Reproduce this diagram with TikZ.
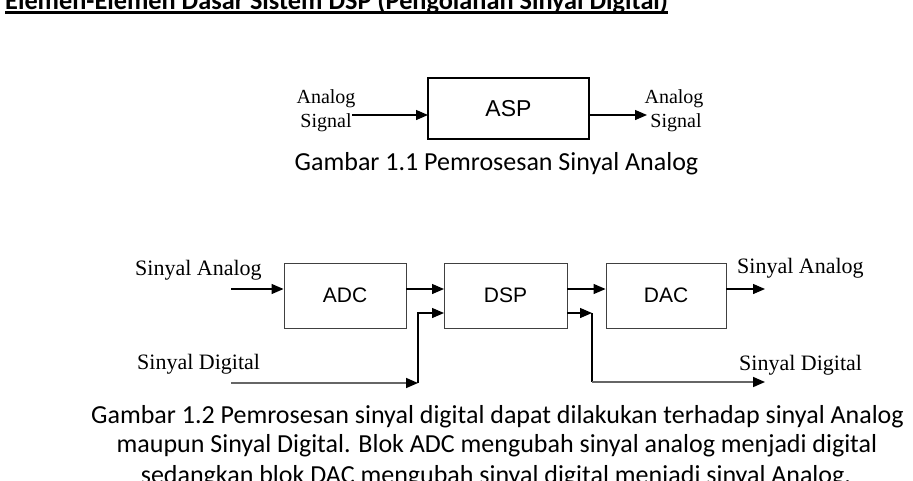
\documentclass[tikz,border=0pt]{standalone}
\usepackage{fontspec}
\setmainfont{Carlito}
\newfontfamily\serifl{Liberation Serif}
\newfontfamily\sansl{Liberation Sans}
\usetikzlibrary{arrows.meta}
\tikzset{
  arr/.style={line width=1.3pt,-{Triangle[length=12pt,width=10pt]}},
  garr/.style={line width=1.6pt,draw=black!60,-{Triangle[length=12pt,width=10pt,color=black]}},
  asplbl/.style={font=\serifl\fontsize{20}{24}\selectfont,inner sep=0pt,anchor=base},
  lbl/.style={font=\serifl\fontsize{22}{26}\selectfont,inner sep=0pt,anchor=base west},
  bigbox/.style={draw,line width=1.3pt,minimum width=161pt,minimum height=61pt,inner sep=0pt,font=\sansl\fontsize{23}{27}\selectfont},
  procbox/.style={draw=black!75,line width=0.9pt,minimum height=65pt,inner sep=0pt,font=\sansl\fontsize{21}{25}\selectfont},
  captext/.style={font=\fontsize{26}{30}\selectfont,inner sep=0pt,anchor=base},
}
\begin{document}
\begin{tikzpicture}[x=1pt,y=-1pt]
\useasboundingbox (0,0) rectangle (913,480);
\clip (0,0) rectangle (913,480);
\fill[white] (0,0) rectangle (913,480);
% title
\node[font=\bfseries\fontsize{26.3}{30}\selectfont,inner sep=0pt,anchor=base west] (title) at (5,9.3) {Elemen-Elemen Dasar Sistem DSP (Pengolahan Sinyal Digital)};
\draw[line width=3.4pt] ([yshift=-2.9pt]title.base west) -- ([yshift=-2.9pt]title.base east);
% figure 1.1
\node[bigbox] (asp) at (508.5,108.5) {ASP};
\node[asplbl] (aL1) at (326,103) {Analog};
\node[asplbl] (aL2) at (326,127) {Signal};
\node[asplbl] (aR1) at (674,103) {Analog};
\node[asplbl] (aR2) at (676,127) {Signal};
\coordinate (aspin) at (428,115);
\coordinate (aspout) at (647,115);
\draw[arr] (aL2.east |- aspin) -- (aspin);
\draw[arr] (asp.east |- aspout) -- (aspout);
\node[captext] (cap1) at (496.5,170) {Gambar 1.1 Pemrosesan Sinyal Analog};
% figure 1.2
\node[procbox,minimum width=122pt] (adc) at (345,295.5) {ADC};
\node[procbox,minimum width=123pt] (dsp) at (505.5,295.5) {DSP};
\node[procbox,minimum width=120pt] (dac) at (666,295.5) {DAC};
\coordinate (inA) at (231,289);
\coordinate (inD) at (231,383);
\coordinate (jD) at (418,383);
\coordinate (dspA) at (444,289);
\coordinate (dspD) at (444,313);
\coordinate (jO) at (592,313);
\coordinate (outA) at (765,289);
\coordinate (outD) at (765,382);
\draw[arr] (inA) -- (adc.west |- inA);
\draw[arr] (adc.east |- dspA) -- (dspA);
\draw[arr] (dsp.east |- inA) -- (dac.west |- inA);
\draw[arr] (dac.east |- outA) -- (outA);
\draw[garr] (inD) -- (jD);
\draw[arr] (jD) |- (dspD);
\draw[arr] (dsp.east |- dspD) -- (jO);
\draw[line width=1.3pt] (jO) -- (jO |- outD);
\draw[garr] (jO |- outD) -- (outD);
\node[lbl] (lA) at (135,275) {Sinyal Analog};
\node[lbl] (lD) at (137,369) {Sinyal Digital};
\node[lbl] (rA) at (737,273) {Sinyal Analog};
\node[lbl] (rD) at (739,370) {Sinyal Digital};
\node[captext] (cap2a) at (497.5,423) {Gambar 1.2 Pemrosesan sinyal digital dapat dilakukan terhadap sinyal Analog};
\node[captext] (cap2b) at (497,452) {maupun Sinyal Digital. Blok ADC mengubah sinyal analog menjadi digital};
\node[captext] (cap2c) at (496,483) {sedangkan blok DAC mengubah sinyal digital menjadi sinyal Analog.};
\end{tikzpicture}
\end{document}
